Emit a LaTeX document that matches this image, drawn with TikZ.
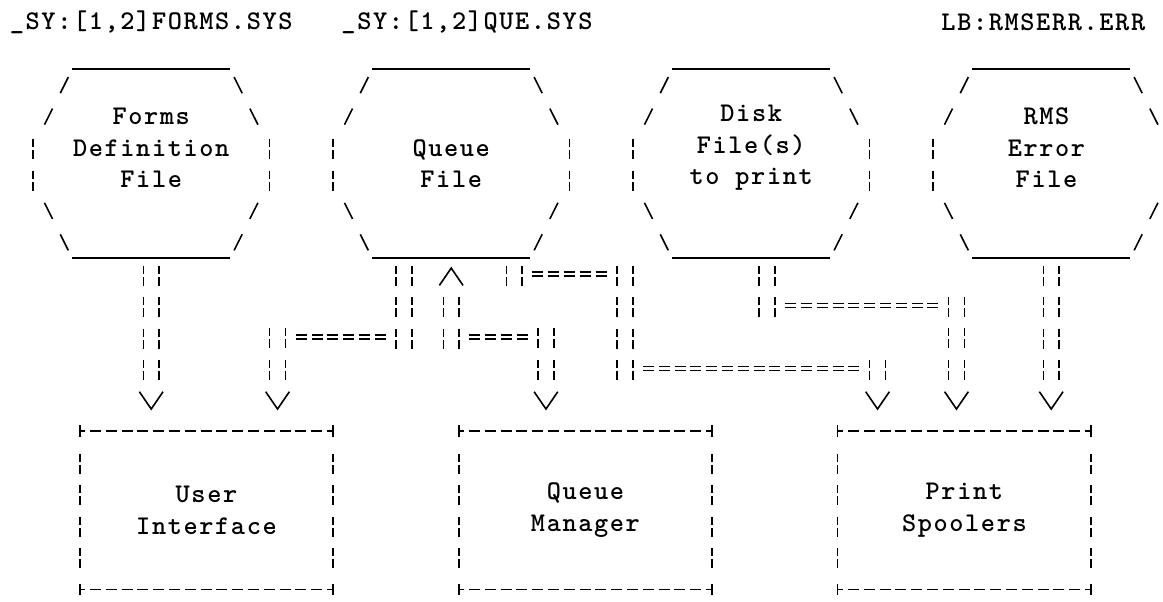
\documentclass[tikz,border=0pt]{standalone}
\usepackage{fontspec}
\setmonofont{lmmonolt10-bold.otf}[LetterSpace=6.0]

\tikzstyle{filehex}=[rectangle, minimum width=118.4pt, minimum height=94.5pt, inner sep=0pt]
\tikzstyle{filetext}=[align=center, inner sep=0pt, font=\ttfamily\fontsize{13.5}{15.75}\selectfont]
\tikzstyle{taskbox}=[rectangle, minimum width=126.3pt, minimum height=78.75pt, inner sep=0pt, align=center, font=\ttfamily\fontsize{13.5}{15.75}\selectfont]
\tikzstyle{rim}=[line width=0.8pt]
\tikzstyle{slant}=[line width=0.8pt, dash pattern=on 9pt off 8.6pt, dash phase=13.2pt]
\tikzstyle{bar}=[line width=0.8pt, dash pattern=on 4pt off 1.5pt on 4.5pt off 5.75pt, dash phase=12.25pt]
\tikzstyle{rule}=[line width=0.8pt, dash pattern=on 5.5pt off 2.4pt, dash phase=2.75pt]
\tikzstyle{vpipe}=[bar, double, double distance=7.1pt]
\tikzstyle{hpipe}=[line width=0.75pt, double, double distance=1.1pt, dash pattern=on 5.5pt off 2.4pt, shorten <=5.1pt, shorten >=5.1pt]
\tikzstyle{into}=[shorten >=23.6pt]

\tikzset{pics/vee/.style={code={\draw[line width=0.8pt] (-0.75,-0.55) -- (0,0) -- (0.75,-0.55);}}}

\begin{document}
\begin{tikzpicture}[x=7.895pt, y=-15.75pt]
	\useasboundingbox (-1.077,-0.698) rectangle (72.58,18.41);

	% File names
	\node[filetext] (formsN) at (8.5,0) {\_SY:[1,2]FORMS.SYS};
	\node[filetext] (queueN) at (28.5,0) {\_SY:[1,2]QUE.SYS};
	\node[filetext] (rmsN) at (65,0) {LB:RMSERR.ERR};

	% Files
	\node[filehex] (forms) at (8.5,4.5) {};
	\node[filehex] (queue) at (27.5,4.5) {};
	\node[filehex] (disk) at (46.5,4.5) {};
	\node[filehex] (rms) at (65.5,4.5) {};

	\node[filetext] (formsT) at (8.5,4) {Forms\\Definition\\File};
	\node[filetext] (queueT) at (27.5,4.5) {Queue\\File};
	\node[filetext] (diskT) at (46.5,4) {Disk\\File(s)\\to print};
	\node[filetext] (rmsT) at (65.2,4) {RMS\\Error\\File};

	\foreach \h in {forms, queue, disk, rms}{
		\draw[rim, shift={(\h.center)}] (-5,-3) -- (5,-3) (-5,3) -- (5,3);
		\draw[slant, shift={(\h.center)}] (-5,-3) -- (-7,-1) (-5,3) -- (-7,1) (5,-3) -- (7,-1) (5,3) -- (7,1);
		\draw[bar, shift={(\h.center)}] (-7.5,-1) -- (-7.5,1) (7.5,-1) -- (7.5,1);
	}

	% Tasks
	\node[taskbox] (user) at (12,15.5) {User\\Interface};
	\node[taskbox] (manager) at (36,15.5) {Queue\\Manager};
	\node[taskbox] (spool) at (60,15.5) {Print\\Spoolers};

	\foreach \b in {user, manager, spool}{
		\draw[rule] (\b.north west) -- (\b.north east) (\b.south west) -- (\b.south east);
		\draw[bar] (\b.north west) ++(0,0.5) -- ++(0,4) (\b.north east) ++(0,0.5) -- ++(0,4);
		\foreach \c in {north west, north east, south west, south east}{ \draw[rim] (\b.\c) ++(0,-0.18) -- ++(0,0.36); }
	}

	% Forms Definition File -> User Interface
	\draw[vpipe, into] (forms.south) -- (forms.south |- user.north);
	\path (forms.south |- user.north) ++(0,-0.7) pic{vee};

	% Queue File -> User Interface
	\coordinate (qu1) at (24.5,10);
	\coordinate (qu2) at (16.5,10);
	\draw[vpipe] (qu1 |- queue.south) -- (qu1) -- ++(0,0.5);
	\draw[hpipe] ([xshift=-3.95pt]qu1) -- ([xshift=3.95pt]qu2);
	\draw[vpipe, into] ([yshift=7.875pt]qu2) -- (qu2 |- user.north);
	\path (qu2 |- user.north) ++(0,-0.7) pic{vee};

	% Queue File <-> Queue Manager
	\coordinate (qm1) at (27.5,10);
	\coordinate (qm2) at (33.5,10);
	\path (qm1 |- queue.south) ++(0,0.3) pic[rotate=180]{vee};
	\draw[vpipe] (qm1 |- queue.south) ++(0,1) -- (qm1) -- ++(0,0.5);
	\draw[hpipe] ([xshift=3.95pt]qm1) -- ([xshift=-3.95pt]qm2);
	\draw[vpipe, into] ([yshift=7.875pt]qm2) -- (qm2 |- manager.north);
	\path (qm2 |- manager.north) ++(0,-0.7) pic{vee};

	% Queue File -> Print Spoolers
	\coordinate (qp1) at (31.5,8);
	\coordinate (qp2) at (38.5,8);
	\coordinate (qp3) at (38.5,11);
	\coordinate (qp4) at (54.5,11);
	\draw[vpipe] (qp1 |- queue.south) -- (qp1) -- ++(0,0.5);
	\draw[hpipe] ([xshift=3.95pt]qp1) -- ([xshift=-3.95pt]qp2);
	\draw[vpipe] (qp2 |- queue.south) -- (qp3) -- ++(0,0.5);
	\draw[hpipe] ([xshift=3.95pt]qp3) -- ([xshift=-3.95pt]qp4);
	\draw[vpipe, into] ([yshift=7.875pt]qp4) -- (qp4 |- spool.north);
	\path (qp4 |- spool.north) ++(0,-0.7) pic{vee};

	% Disk File(s) -> Print Spoolers
	\coordinate (dp1) at (47.5,9);
	\coordinate (dp2) at (59.5,9);
	\draw[vpipe] (dp1 |- disk.south) -- (dp1) -- ++(0,0.5);
	\draw[hpipe] ([xshift=3.95pt]dp1) -- ([xshift=-3.95pt]dp2);
	\draw[vpipe, into] ([yshift=7.875pt]dp2) -- (dp2 |- spool.north);
	\path (dp2 |- spool.north) ++(0,-0.7) pic{vee};

	% RMS Error File -> Print Spoolers
	\draw[vpipe, into] (rms.south) -- (rms.south |- spool.north);
	\path (rms.south |- spool.north) ++(0,-0.7) pic{vee};
\end{tikzpicture}
\end{document}
